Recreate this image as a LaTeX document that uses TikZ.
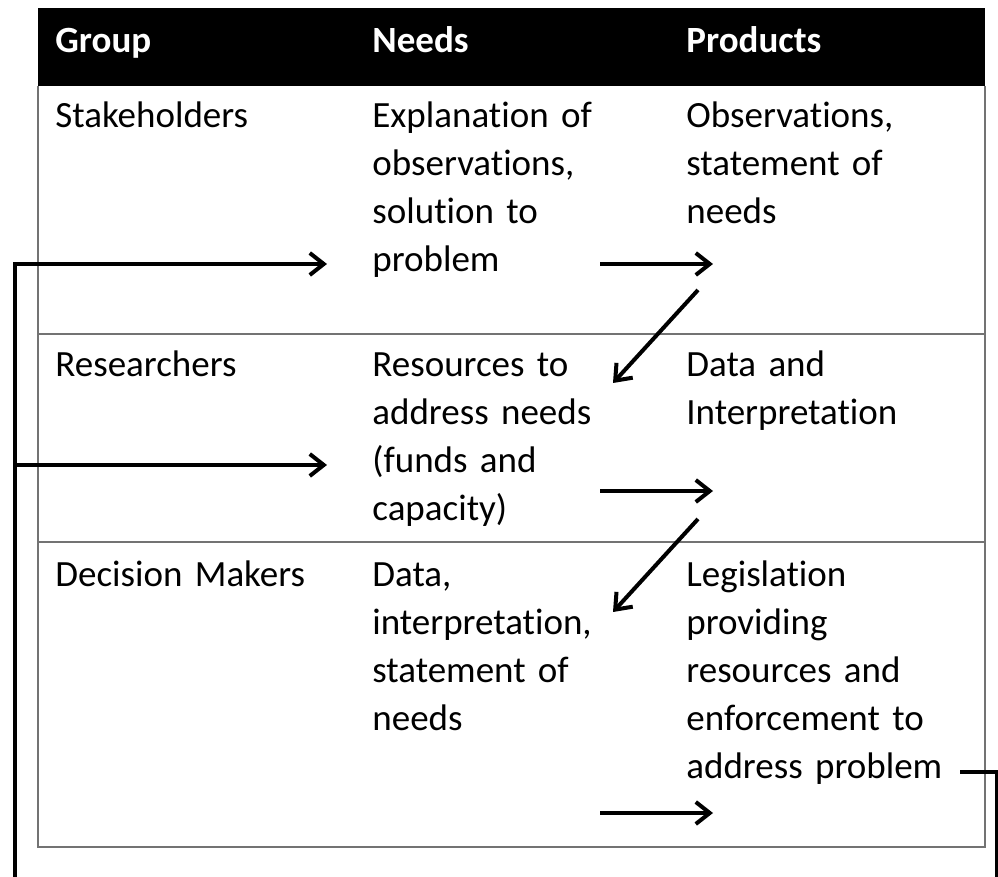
\documentclass[tikz,border=0pt]{standalone}
\usepackage{fontspec}
\setmainfont[Ligatures=NoCommon]{Carlito}
\usetikzlibrary{arrows.meta}
\tikzset{
  cell/.style={anchor=north west,text width=150pt,align=left,inner sep=0pt,font=\fontsize{18.5}{24}\selectfont,execute at begin node=\strut},
  head/.style={cell,text=white,font=\bfseries\fontsize{18.5}{24}\selectfont},
  flow/.style={line width=2pt,-{Straight Barb[length=7pt,width=11pt,line width=2pt]}},
  rule/.style={draw=black!55,line width=1pt}
}
\begin{document}
\begin{tikzpicture}[x=0.5pt,y=-0.5pt]
\useasboundingbox(0,0)rectangle(998,877);
% table
\fill(38,8)rectangle(985,86);
\draw[rule](38,86)--(38,847)--(985,847)--(985,86);
\draw[rule](38,334)--(985,334);
\draw[rule](38,542)--(985,542);
\node[head](hgroup) at (55,19){Group};
\node[head](hneeds) at (372,19){Needs};
\node[head](hprod) at (686,19){Products};
% rows
\node[cell](stake) at (55,94){Stakeholders};
\node[cell](needsA) at (372,94){Explanation of\\observations,\\solution to\\problem};
\node[cell](prodA) at (686,94){Observations,\\statement of\\needs};
\node[cell](research) at (55,343){Researchers};
\node[cell](needsB) at (372,343){Resources to\\address needs\\(funds and\\capacity)};
\node[cell](prodB) at (686,343){Data and\\Interpretation};
\node[cell](decide) at (55,553){Decision Makers};
\node[cell](needsC) at (372,553){Data,\\interpretation,\\statement of\\needs};
\node[cell](prodC) at (686,553){Legislation\\providing\\resources and\\enforcement to\\address problem};
% arrows
\coordinate(a1s) at (600,264);\coordinate(a1e) at (713,264);
\coordinate(d1s) at (698,290);\coordinate(d1e) at (613,383);
\coordinate(a2s) at (600,491);\coordinate(a2e) at (713,491);
\coordinate(d2s) at (698,519);\coordinate(d2e) at (613,612);
\coordinate(a3s) at (600,813);\coordinate(a3e) at (713,813);
\draw[flow](a1s)--(a1e);
\draw[flow](d1s)--(d1e);
\draw[flow](a2s)--(a2e);
\draw[flow](d2s)--(d2e);
\draw[flow](a3s)--(a3e);
% feedback loop
\coordinate(backS) at (960,772);
\coordinate(backR) at (997,772);
\coordinate(backBR) at (997,900);
\coordinate(backBL) at (15,900);
\coordinate(backTL) at (15,264);
\coordinate(backML) at (15,465);
\coordinate(l1e) at (327,264);
\coordinate(l2e) at (327,465);
\draw[flow](backS)--(backR)--(backBR)--(backBL)--(backTL)--(l1e);
\draw[flow](backML)--(l2e);
\end{tikzpicture}
\end{document}
